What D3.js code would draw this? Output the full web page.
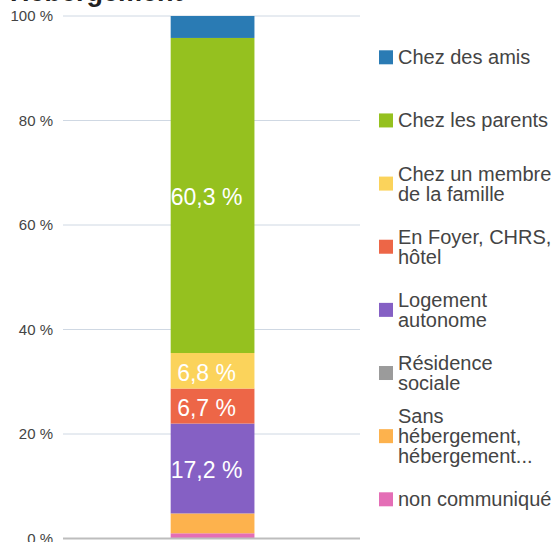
<!DOCTYPE html>
<html>
<head>
<meta charset="utf-8">
<script src="https://cdn.jsdelivr.net/npm/d3@7"></script>
<style>
  body { margin: 0; background: #fff; }
  text { font-family: "Liberation Sans", Arial, sans-serif; }
</style>
</head>
<body>
<div id="chart"></div>
<script>
// categories, top of legend first
const categories = [
  "Chez des amis",
  "Chez les parents",
  "Chez un membre de la famille",
  "En Foyer, CHRS, hôtel",
  "Logement autonome",
  "Résidence sociale",
  "Sans hébergement, hébergement...",
  "non communiqué"
];
// legend labels as wrapped in the picture
const legendLines = [
  ["Chez des amis"],
  ["Chez les parents"],
  ["Chez un membre", "de la famille"],
  ["En Foyer, CHRS,", "hôtel"],
  ["Logement", "autonome"],
  ["Résidence", "sociale"],
  ["Sans", "hébergement,", "hébergement..."],
  ["non communiqué"]
];
// share in percent
const values = [4.2, 60.3, 6.8, 6.7, 17.2, 0, 3.8, 1.0];
const colors = ["#2a7bb4", "#95c11f", "#fbd35b", "#ed6647", "#8560c4", "#9b9b9b", "#fdb24d", "#e46eb6"];
const yTicks = [0, 20, 40, 60, 80, 100];
const title = "Hébergement";

const W = 556, H = 542;

let svg = d3.select("#chart").append("svg").attr("width", W).attr("height", H);

// scales
let x = d3.scaleBand().domain([title]).range([63, 360])
  .paddingInner(0.56).paddingOuter(0.56).align(0.505);
let y = d3.scaleLinear().domain([0, 100]).range([538.5, 16]);

// title (cut off at top)
svg.append("text")
  .attr("x", 10).attr("y", 1)
  .attr("font-size", 27).attr("font-weight", "bold")
  .attr("fill", "#222")
  .text(title);

// grid lines
svg.append("g")
  .selectAll("line")
  .data(yTicks.filter(d => d > 0))
  .enter()
  .append("line")
  .attr("x1", 63).attr("x2", 360)
  .attr("y1", d => y(d)).attr("y2", d => y(d))
  .attr("stroke", "#cfd8e3").attr("stroke-width", 1);

// y axis labels
let yAxis = svg.append("g")
  .attr("transform", "translate(53,0)")
  .call(d3.axisLeft(y).tickValues(yTicks).tickSize(0).tickPadding(0)
    .tickFormat(d => d + " %"));
yAxis.select(".domain").remove();
yAxis.selectAll("text")
  .attr("font-size", 15).attr("fill", "#444");

// stack bottom-up: reverse of legend order
let rows = [];
let acc = 0;
for (let i = categories.length - 1; i >= 0; i--) {
  rows.push({ cat: categories[i], v: values[i], y0: acc, y1: acc + values[i], color: colors[i] });
  acc += values[i];
}

svg.append("g")
  .selectAll("rect")
  .data(rows)
  .enter()
  .append("rect")
  .attr("x", x(title))
  .attr("width", x.bandwidth())
  .attr("y", d => y(d.y1))
  .attr("height", d => y(d.y0) - y(d.y1))
  .attr("fill", d => d.color);

// baseline
svg.append("line")
  .attr("x1", 63).attr("x2", 360)
  .attr("y1", y(0)).attr("y2", y(0))
  .attr("stroke", "#bdbdbd").attr("stroke-width", 2);

// value labels
svg.append("g")
  .selectAll("text")
  .data(rows.filter(d => d.v >= 5))
  .enter()
  .append("text")
  .attr("x", x(title) + x.bandwidth() / 2 - 6)
  .attr("y", d => (y(d.y0) + y(d.y1)) / 2 + 10)
  .attr("text-anchor", "middle")
  .attr("font-size", 23)
  .attr("fill", "#fff")
  .text(d => d.v.toFixed(1).replace(".", ",") + " %");

// legend
let ly = d3.scalePoint().domain(categories).range([57.3, 499.3]);
let legend = svg.append("g")
  .selectAll("g")
  .data(categories)
  .enter()
  .append("g")
  .attr("transform", d => "translate(379," + ly(d) + ")");

legend.append("rect")
  .attr("x", 0).attr("y", -7)
  .attr("width", 14).attr("height", 14)
  .attr("fill", (d, i) => colors[i]);

legend.append("text")
  .attr("font-size", 20)
  .attr("fill", "#444")
  .each(function (d, i) {
    let lines = legendLines[i];
    let t = d3.select(this);
    lines.forEach((l, j) => {
      t.append("tspan")
        .attr("x", 19)
        .attr("y", 7 + (j - (lines.length - 1) / 2) * 20)
        .text(l);
    });
  });
</script>
</body>
</html>
